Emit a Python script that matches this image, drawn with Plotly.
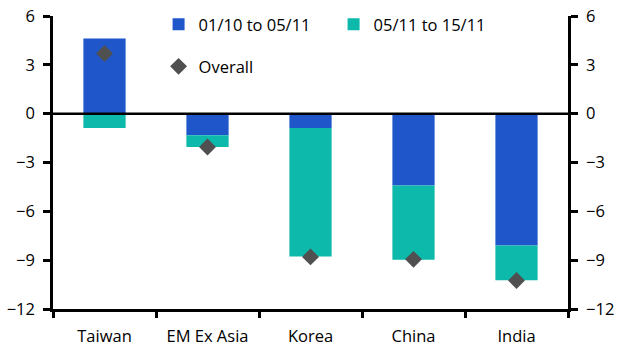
import plotly.graph_objects as go

categories = ["Taiwan", "EM Ex Asia", "Korea", "China", "India"]
period1 = [4.62, -1.33, -0.88, -4.41, -8.10]
period2 = [-0.88, -0.72, -7.90, -4.56, -2.14]
overall = [3.70, -2.05, -8.80, -8.95, -10.25]
y_ticks = [6, 3, 0, -3, -6, -9, -12]

blue = "#1F57CB"
teal = "#0DB9AB"
font = "Open Sans"

fig = go.Figure()
fig.add_trace(go.Bar(x=categories, y=period1, name="01/10 to 05/11",
                     marker=dict(color=blue, line=dict(width=0)), legend="legend"))
fig.add_trace(go.Bar(x=categories, y=period2, name="05/11 to 15/11",
                     marker=dict(color=teal, line=dict(width=0)), legend="legend"))
fig.add_trace(go.Scatter(x=categories, y=overall, name="Overall", mode="markers",
                         marker=dict(symbol="diamond", size=13, color="#505050"),
                         legend="legend2", yaxis="y2"))

axis_common = dict(range=[-12, 6], tickvals=y_ticks, ticks="outside", ticklen=7,
                   tickwidth=2.5, tickcolor="black", showline=True, linecolor="black",
                   linewidth=2.5, showgrid=False, zeroline=False, automargin=False,
                   ticklabelstandoff=5,
                   tickfont=dict(family=font, size=16.5, color="black"))

fig.update_layout(
    width=630, height=363,
    margin=dict(l=53, r=62, t=16, b=54, autoexpand=False),
    plot_bgcolor="white", paper_bgcolor="white",
    barmode="relative", bargap=0.59,
    showlegend=True,
    xaxis=dict(type="category", showline=True, linecolor="black", linewidth=2.5,
               ticks="outside", ticklen=6, tickwidth=2.5, tickcolor="black",
               tickson="boundaries", showgrid=False, automargin=False,
               ticklabelstandoff=10,
               tickfont=dict(family=font, size=16.5, color="black")),
    yaxis=dict(side="left", **axis_common),
    yaxis2=dict(side="right", overlaying="y", **axis_common),
    legend=dict(orientation="h", x=0.205, y=1.031, xanchor="left", yanchor="top",
                bgcolor="rgba(0,0,0,0)", entrywidth=130, itemwidth=30,
                font=dict(family=font, size=16.5, color="black"), traceorder="normal"),
    legend2=dict(orientation="h", x=0.205, y=0.887, xanchor="left", yanchor="top",
                 bgcolor="rgba(0,0,0,0)", itemwidth=30,
                 font=dict(family=font, size=16.5, color="black")),
    shapes=[dict(type="line", xref="paper", yref="y", x0=0, x1=1, y0=0, y1=0,
                 line=dict(color="black", width=2.5), layer="above")],
)

fig.write_html("out.html", config={"displayModeBar": False},
               post_script="document.body.style.margin='0';")
